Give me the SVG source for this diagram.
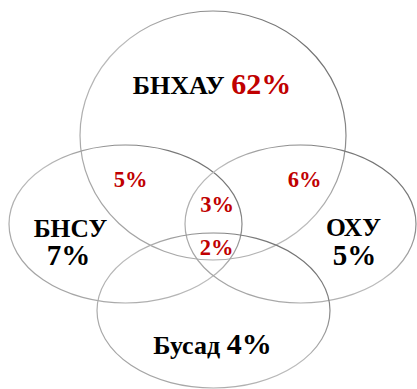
<svg xmlns="http://www.w3.org/2000/svg" width="417" height="389" viewBox="0 0 417 389">
<defs>
<linearGradient id="g" x1="0" y1="1" x2="1" y2="0">
<stop offset="0" stop-color="#9a9a9a"/>
<stop offset="0.5" stop-color="#bdbdbd"/>
<stop offset="1" stop-color="#555"/>
</linearGradient>
</defs>
<style>
.e{fill:none;stroke:url(#g);stroke-width:1.2}
text{font-family:'Liberation Serif','DejaVu Serif',serif;font-weight:bold;text-anchor:middle}
.k{fill:#000}
.r{fill:#c00000}
.s{font-size:22.5px}
</style>
<rect width="417" height="389" fill="#fff"/>
<g id="connectors"/>
<g id="top">
<ellipse class="e" cx="213" cy="135.5" rx="133" ry="124.5"/>
<text x="212" y="93.5"><tspan class="k" font-size="26">БНХАУ </tspan><tspan class="r" font-size="30">62%</tspan></text>
</g>
<g id="left">
<ellipse class="e" cx="125.5" cy="224" rx="116.5" ry="79"/>
<text class="k" x="70.5" y="236.5" font-size="25.5">БНСУ</text>
<text class="k" x="68.5" y="265" font-size="29">7%</text>
</g>
<g id="right">
<ellipse class="e" cx="300.5" cy="224" rx="115.5" ry="79"/>
<text class="k" x="353.5" y="236" font-size="25.5">ОХУ</text>
<text class="k" x="354.5" y="265" font-size="29">5%</text>
</g>
<g id="bottom">
<ellipse class="e" cx="213.5" cy="310.5" rx="116.5" ry="77.5"/>
<text x="212.5" y="354"><tspan class="k" font-size="26">Бусад </tspan><tspan class="k" font-size="30">4%</tspan></text>
</g>
<g id="overlaps">
<text class="r s" x="130.5" y="187">5%</text>
<text class="r s" x="304.5" y="187">6%</text>
<text class="r s" x="217" y="212">3%</text>
<text class="r s" x="216.5" y="255">2%</text>
</g>
</svg>
